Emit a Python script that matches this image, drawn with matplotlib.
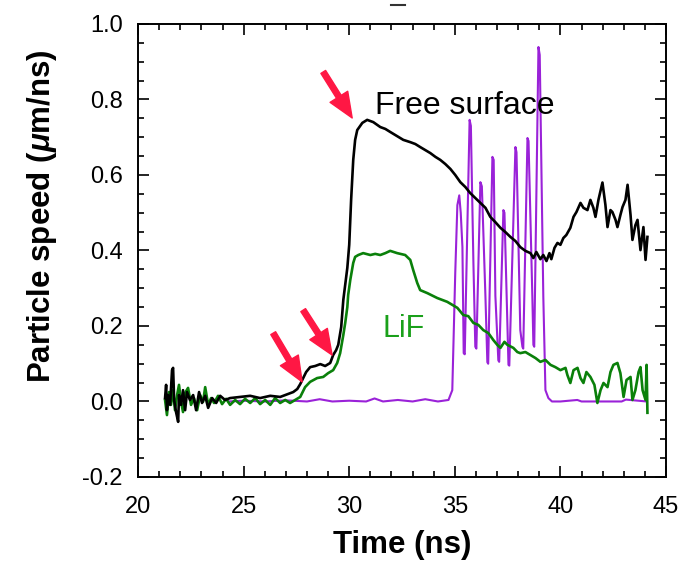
import numpy as np
import matplotlib
matplotlib.use('Agg')
import matplotlib.pyplot as plt
from matplotlib.lines import Line2D
from matplotlib.ticker import MultipleLocator, FormatStrFormatter

plt.rcParams['font.family'] = ['Liberation Sans', 'DejaVu Sans']
plt.rcParams['mathtext.fontset'] = 'custom'
plt.rcParams['mathtext.it'] = 'Liberation Sans:italic:bold'
plt.rcParams['mathtext.rm'] = 'Liberation Sans:bold'

# free surface velocity (black)
fs_t = [21.28, 21.33, 21.37, 21.42, 21.52, 21.61, 21.66, 21.71, 21.80, 21.90,
        21.94, 22.04, 22.13, 22.23, 22.32, 22.46, 22.61, 22.75, 22.89, 23.03,
        23.18, 23.32, 23.51, 23.70, 23.89, 24.12, 24.36, 24.83, 25.31, 25.78,
        26.26, 26.73, 27.11, 27.35, 27.54, 27.68, 27.82, 27.96, 28.15, 28.39,
        28.63, 28.86, 29.10, 29.24, 29.38, 29.48, 29.62, 29.72, 29.81, 29.91,
        30.00, 30.05, 30.09, 30.14, 30.19, 30.28, 30.38, 30.62, 30.85, 31.14,
        31.47, 31.71, 31.94, 32.18, 32.56, 32.89, 33.13, 33.36, 33.60, 33.84,
        34.08, 34.31, 34.55, 34.79, 35.02, 35.26, 35.50, 35.73, 35.97, 36.21,
        36.45, 36.68, 36.92, 37.16, 37.39, 37.63, 37.87, 38.10, 38.34, 38.58,
        38.72, 38.86, 39.05, 39.19, 39.34, 39.48, 39.57, 39.72, 39.86, 40.00,
        40.14, 40.28, 40.47, 40.62, 40.76, 40.95, 41.09, 41.28, 41.42, 41.56,
        41.66, 41.80, 41.99, 42.13, 42.23, 42.37, 42.46, 42.61, 42.70, 42.84,
        42.94, 43.08, 43.18, 43.32, 43.41, 43.55, 43.65, 43.79, 43.93, 44.03,
        44.12]
fs_v = [0.009, 0.044, -0.023, 0.017, -0.009, 0.083, 0.089, 0.004, -0.028, -0.054,
        0.017, -0.009, 0.030, -0.023, 0.025, 0.004, 0.017, -0.023, 0.025, -0.004,
        0.015, -0.017, 0.009, -0.004, 0.015, 0.004, 0.009, 0.012, 0.015, 0.009,
        0.015, 0.012, 0.020, 0.025, 0.033, 0.046, 0.062, 0.078, 0.091, 0.094,
        0.099, 0.094, 0.102, 0.123, 0.136, 0.150, 0.197, 0.269, 0.309, 0.354,
        0.415, 0.481, 0.534, 0.587, 0.640, 0.693, 0.719, 0.738, 0.746, 0.740,
        0.727, 0.722, 0.714, 0.706, 0.693, 0.687, 0.682, 0.674, 0.666, 0.658,
        0.648, 0.640, 0.629, 0.616, 0.600, 0.581, 0.568, 0.552, 0.539, 0.526,
        0.513, 0.489, 0.475, 0.460, 0.449, 0.436, 0.425, 0.409, 0.399, 0.393,
        0.380, 0.396, 0.377, 0.388, 0.372, 0.393, 0.377, 0.407, 0.420, 0.415,
        0.433, 0.441, 0.460, 0.489, 0.502, 0.526, 0.513, 0.507, 0.534, 0.513,
        0.489, 0.534, 0.580, 0.521, 0.462, 0.507, 0.502, 0.481, 0.462, 0.494,
        0.515, 0.534, 0.574, 0.494, 0.428, 0.467, 0.481, 0.401, 0.462, 0.375,
        0.436]

# LiF window interface velocity (green)
lif_t = [21.28, 21.37, 21.47, 21.56, 21.66, 21.75, 21.85, 21.94, 22.04, 22.13,
         22.23, 22.37, 22.51, 22.65, 22.80, 22.94, 23.08, 23.18, 23.32, 23.46,
         23.60, 23.79, 23.98, 24.17, 24.36, 24.60, 24.83, 25.07, 25.31, 25.55,
         25.78, 26.02, 26.26, 26.49, 26.73, 26.97, 27.20, 27.44, 27.68, 27.91,
         28.15, 28.48, 28.77, 29.00, 29.24, 29.43, 29.57, 29.72, 29.81, 29.91,
         29.95, 30.05, 30.19, 30.28, 30.43, 30.66, 31.00, 31.23, 31.47, 31.71,
         31.94, 32.27, 32.65, 32.89, 33.03, 33.22, 33.36, 33.70, 34.17, 34.64,
         35.12, 35.40, 35.64, 35.88, 36.11, 36.35, 36.59, 36.82, 37.01, 37.16,
         37.35, 37.49, 37.77, 37.96, 38.10, 38.34, 38.58, 38.82, 39.05, 39.29,
         39.53, 39.76, 40.00, 40.24, 40.33, 40.47, 40.62, 40.81, 40.95, 41.09,
         41.23, 41.42, 41.61, 41.75, 41.90, 42.04, 42.23, 42.37, 42.51, 42.70,
         42.84, 42.99, 43.13, 43.32, 43.41, 43.55, 43.70, 43.79, 43.89, 44.03,
         44.08, 44.12]
lif_v = [0.004, -0.036, 0.025, -0.009, 0.030, -0.023, 0.017, 0.044, -0.001, -0.028,
         0.023, 0.036, -0.009, 0.009, -0.023, 0.017, -0.001, 0.038, -0.009, 0.009,
         -0.004, 0.015, -0.007, 0.007, -0.009, 0.004, -0.007, 0.007, -0.004, 0.009,
         -0.007, 0.004, -0.009, 0.009, -0.004, 0.004, -0.004, 0.004, 0.012, 0.038,
         0.052, 0.062, 0.065, 0.075, 0.083, 0.102, 0.128, 0.176, 0.208, 0.250,
         0.282, 0.322, 0.367, 0.383, 0.388, 0.393, 0.388, 0.391, 0.388, 0.393,
         0.399, 0.393, 0.388, 0.375, 0.348, 0.314, 0.295, 0.287, 0.274, 0.264,
         0.248, 0.229, 0.226, 0.208, 0.203, 0.189, 0.181, 0.163, 0.150, 0.142,
         0.158, 0.150, 0.142, 0.131, 0.128, 0.131, 0.123, 0.115, 0.105, 0.110,
         0.097, 0.091, 0.083, 0.089, 0.070, 0.049, 0.083, 0.089, 0.062, 0.049,
         0.078, 0.065, 0.044, -0.004, 0.030, 0.049, 0.038, 0.078, 0.097, 0.102,
         0.075, 0.012, 0.057, 0.065, 0.004, 0.030, 0.078, 0.091, 0.030, 0.004,
         0.097, -0.030]

# purple trace
pur_t = [24.30, 25.00, 26.00, 27.00, 28.00, 28.60, 29.20, 30.00, 30.80, 31.20,
         31.60, 32.30, 33.00, 33.60, 34.20, 34.70, 34.88, 35.02, 35.12, 35.21,
         35.28, 35.36, 35.42, 35.47, 35.59, 35.70, 35.76, 35.88, 35.97, 36.02,
         36.21, 36.28, 36.45, 36.54, 36.58, 36.78, 36.84, 36.92, 37.06, 37.10,
         37.30, 37.35, 37.54, 37.58, 37.87, 37.92, 38.10, 38.20, 38.24, 38.44,
         38.49, 38.67, 38.72, 38.76, 38.96, 39.02, 39.19, 39.29, 39.43, 39.60,
         40.00, 40.80, 41.00, 42.00, 42.90, 43.10, 44.08]
pur_v = [0.000, 0.002, 0.000, 0.003, 0.000, 0.006, 0.000, 0.002, 0.000, 0.008,
         0.000, 0.004, 0.000, 0.006, 0.000, 0.004, 0.030, 0.340, 0.520, 0.546,
         0.500, 0.409, 0.128, 0.125, 0.454, 0.746, 0.730, 0.367, 0.145, 0.140,
         0.581, 0.570, 0.277, 0.104, 0.100, 0.648, 0.640, 0.280, 0.109, 0.105,
         0.507, 0.500, 0.097, 0.095, 0.674, 0.660, 0.189, 0.145, 0.140, 0.698,
         0.690, 0.280, 0.150, 0.145, 0.939, 0.918, 0.277, 0.030, 0.009, 0.000,
         0.000, 0.004, 0.000, 0.000, 0.000, 0.005, 0.000]

# arrows: (tail, tip)
arrows = [((28.77, 0.873), (30.14, 0.751)),
          ((27.82, 0.242), (29.19, 0.123)),
          ((26.40, 0.181), (27.77, 0.052))]

fig = plt.figure(figsize=(6.95, 5.63), dpi=100)
ax = fig.add_axes([0.1986, 0.1528, 0.7597, 0.8046])

ax.plot(pur_t, pur_v, color='#9a22d8', lw=1.5)
ax.plot(lif_t, lif_v, color='#0a800a', lw=1.9)
ax.plot(fs_t, fs_v, color='black', lw=1.9)

for tail, tip in arrows:
    ax.annotate('', xy=tip, xytext=tail,
                arrowprops=dict(width=4, headwidth=15, headlength=18,
                                facecolor='#ff1744', edgecolor='#ff1744', shrink=0))

ax.text(31.23, 0.762, 'Free surface', fontsize=23, color='black')
ax.text(31.56, 0.171, 'LiF', fontsize=22, color='#1aa01a')

ax.set_xlim(20, 45)
ax.set_ylim(-0.2, 1.0)
ax.xaxis.set_major_locator(MultipleLocator(5))
ax.xaxis.set_minor_locator(MultipleLocator(1))
ax.yaxis.set_major_locator(MultipleLocator(0.2))
ax.yaxis.set_minor_locator(MultipleLocator(0.05))
ax.xaxis.set_major_formatter(FormatStrFormatter('%d'))
ax.yaxis.set_major_formatter(FormatStrFormatter('%.1f'))
ax.tick_params(which='both', direction='in', top=True, right=True, width=1.2,
               labelsize=17)
ax.tick_params(axis='x', which='both', pad=14)
ax.tick_params(axis='y', which='both', pad=11)
ax.tick_params(which='major', length=8)
ax.tick_params(which='minor', length=4)
for s in ax.spines.values():
    s.set_linewidth(1.4)

ax.set_xlabel('Time (ns)', fontsize=22.5, fontweight='bold', labelpad=8)
ax.set_ylabel(r'Particle speed ($\mu$m/ns)', fontsize=22.5, fontweight='bold')
ax.yaxis.set_label_coords(-0.150, 0.576)

fig.add_artist(Line2D([0.563, 0.583], [0.992, 0.992], transform=fig.transFigure,
                      color='#333333', lw=1.5))

fig.savefig('out.png', dpi=100)
